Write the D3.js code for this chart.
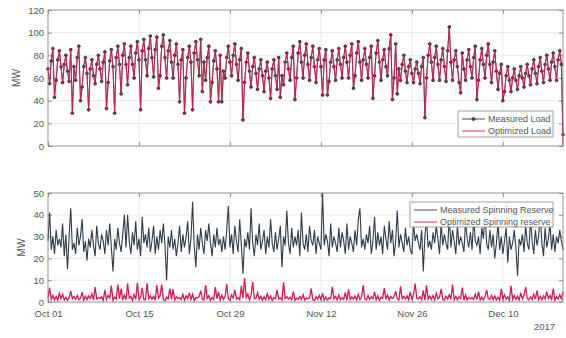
<!DOCTYPE html>
<html>
<head>
<meta charset="utf-8">
<script src="https://cdn.jsdelivr.net/npm/d3@7"></script>
<style>
  body { margin: 0; background: #fff; }
  svg { display: block; font-family: "Liberation Sans", Arial, Helvetica, sans-serif; }
  .axis text { fill: #555; font-size: 9.5px; }
  .axis path { display: none; }
  .axis line { stroke: #7a7a7a; stroke-width: 0.8; }
</style>
</head>
<body>
<div id="chart"></div>
<script>
// samples every 6 h from Oct 01 2017 (00, 06, 12, 18 h per row)
const startDate = Date.UTC(2017, 9, 1);
const stepHours = 6;

const measuredLoad = [
  [68, 55, 75, 86], [43, 58, 76, 84], [70, 56, 72, 80], [66, 57, 85, 29], [70, 58, 78, 88],
  [40, 52, 70, 78], [64, 32, 68, 76], [62, 55, 72, 80], [68, 57, 74, 83], [33, 56, 75, 85],
  [70, 29, 78, 88], [72, 46, 80, 90], [72, 54, 78, 88], [72, 60, 82, 92], [76, 32, 84, 94],
  [76, 62, 86, 97], [78, 61, 85, 96], [51, 62, 88, 98], [78, 60, 84, 93], [74, 60, 80, 90],
  [72, 39, 76, 85], [29, 60, 78, 88], [74, 32, 82, 92], [76, 62, 94, 48], [74, 58, 78, 88],
  [39, 56, 75, 84], [68, 39, 80, 39], [66, 60, 78, 88], [74, 62, 80, 90], [72, 58, 76, 86],
  [23, 56, 74, 82], [66, 52, 70, 78], [64, 50, 68, 76], [62, 48, 66, 74], [60, 42, 68, 76],
  [62, 50, 78, 43], [62, 54, 74, 82], [68, 58, 78, 88], [41, 60, 82, 92], [74, 60, 80, 90],
  [72, 58, 78, 88], [70, 56, 76, 86], [70, 45, 76, 85], [45, 57, 74, 84], [70, 58, 76, 86],
  [72, 60, 78, 88], [74, 60, 80, 90], [51, 62, 82, 92], [74, 58, 76, 86], [72, 60, 78, 88],
  [42, 62, 82, 93], [74, 58, 76, 85], [70, 62, 86, 98], [41, 60, 90, 46], [68, 58, 72, 80],
  [66, 56, 70, 76], [64, 56, 68, 74], [64, 55, 70, 78], [25, 60, 80, 90], [74, 58, 78, 88],
  [72, 58, 76, 86], [70, 57, 84, 105], [74, 58, 76, 84], [70, 56, 47, 82], [68, 58, 76, 85],
  [70, 60, 78, 88], [41, 58, 76, 86], [72, 60, 80, 90], [72, 56, 74, 84], [66, 50, 64, 72],
  [40, 48, 62, 70], [58, 48, 60, 68], [58, 50, 62, 70], [60, 52, 64, 72], [62, 54, 68, 76],
  [64, 55, 70, 78], [66, 56, 72, 80], [68, 58, 74, 82], [70, 58, 76, 84], [72, 10]
].flat();

const optimizedLoad = [
  [68, 55, 75, 86], [43, 58, 76, 84], [70, 56, 72, 80], [66, 57, 85, 29], [70, 58, 78, 88],
  [40, 52, 70, 78], [64, 32, 68, 76], [62, 55, 72, 80], [68, 57, 74, 83], [33, 56, 75, 85],
  [70, 29, 78, 88], [72, 46, 80, 90], [72, 54, 78, 88], [72, 60, 82, 92], [76, 32, 84, 94],
  [76, 62, 86, 96], [78, 61, 85, 96], [51, 62, 88, 98], [78, 60, 84, 93], [74, 60, 80, 90],
  [72, 39, 76, 85], [29, 60, 78, 88], [74, 32, 82, 92], [76, 62, 94, 48], [74, 58, 78, 88],
  [39, 56, 75, 84], [68, 39, 80, 39], [66, 60, 78, 88], [74, 62, 80, 90], [72, 58, 76, 86],
  [22, 56, 74, 82], [66, 52, 70, 78], [64, 50, 68, 76], [62, 48, 66, 74], [60, 42, 68, 76],
  [62, 50, 78, 43], [62, 54, 74, 82], [68, 58, 78, 88], [41, 60, 82, 92], [74, 60, 80, 90],
  [72, 57, 78, 88], [70, 56, 76, 86], [70, 45, 76, 85], [45, 57, 74, 84], [70, 58, 76, 86],
  [72, 60, 78, 88], [74, 60, 80, 90], [51, 62, 82, 92], [74, 58, 76, 86], [72, 60, 78, 88],
  [42, 62, 82, 93], [74, 58, 76, 85], [70, 62, 86, 98], [41, 60, 90, 46], [68, 58, 72, 80],
  [66, 56, 70, 76], [64, 56, 68, 74], [64, 55, 70, 78], [25, 60, 80, 90], [74, 58, 78, 88],
  [72, 58, 76, 86], [70, 57, 84, 105], [74, 58, 76, 84], [70, 56, 47, 82], [68, 58, 76, 85],
  [70, 60, 78, 88], [41, 58, 76, 86], [72, 60, 80, 90], [72, 56, 74, 84], [66, 50, 64, 72],
  [40, 48, 62, 70], [58, 48, 60, 68], [58, 50, 62, 70], [60, 52, 64, 72], [62, 54, 68, 76],
  [64, 55, 70, 78], [66, 56, 72, 80], [68, 58, 74, 82], [70, 58, 76, 84], [72, 0]
].flat();

const measuredReserve = [
  [28, 41, 24, 30], [22, 33, 26, 29], [25, 36, 21, 31], [15, 30, 43, 24], [27, 22, 34, 26],
  [30, 38, 23, 28], [19, 29, 25, 33], [26, 21, 35, 27], [24, 31, 28, 22], [33, 26, 36, 25],
  [14, 29, 24, 34], [27, 23, 31, 40], [25, 40, 28, 22], [32, 26, 37, 24], [29, 21, 39, 27],
  [31, 25, 34, 23], [28, 35, 22, 30], [24, 33, 27, 36], [26, 10, 30, 25], [33, 24, 29, 21],
  [27, 35, 23, 31], [25, 30, 37, 22], [29, 46, 26, 16], [31, 24, 34, 27], [22, 33, 28, 36],
  [27, 21, 31, 25], [34, 26, 29, 23], [30, 24, 33, 44], [25, 31, 22, 35], [28, 23, 38, 26],
  [13, 29, 25, 32], [24, 43, 27, 21], [31, 26, 36, 24], [28, 33, 22, 30], [25, 38, 27, 23],
  [32, 24, 29, 35], [16, 30, 26, 42], [27, 22, 34, 25], [30, 26, 33, 21], [41, 27, 24, 31],
  [23, 35, 28, 26], [33, 22, 30, 27], [24, 50, 26, 31], [28, 21, 36, 25], [30, 27, 23, 34],
  [25, 32, 28, 22], [36, 24, 30, 27], [23, 33, 26, 38], [43, 25, 29, 24], [31, 27, 35, 22],
  [28, 39, 24, 32], [26, 30, 22, 35], [29, 24, 37, 27], [33, 21, 28, 42], [25, 31, 27, 23],
  [34, 26, 30, 24], [22, 36, 28, 31], [27, 24, 33, 14], [30, 38, 25, 28], [24, 32, 27, 35],
  [29, 22, 36, 26], [31, 27, 24, 40], [25, 33, 28, 22], [35, 26, 30, 27], [23, 37, 29, 25],
  [32, 24, 38, 28], [26, 30, 22, 34], [29, 41, 27, 24], [33, 25, 31, 20], [27, 36, 24, 30],
  [22, 28, 34, 18], [30, 24, 27, 33], [25, 12, 29, 26], [31, 23, 35, 27], [24, 38, 28, 22],
  [33, 26, 30, 40], [27, 21, 34, 25], [29, 36, 24, 31], [23, 30, 27, 33], [28, 24]
].flat();

const optimizedReserve = [
  [2.0, 6.5, 1.2, 3.0], [1.0, 2.5, 0.8, 4.0], [1.5, 3.5, 1.0, 2.2], [0.8, 2.0, 5.0, 1.5], [2.5, 1.2, 3.0, 1.0],
  [1.8, 4.5, 0.9, 2.6], [1.1, 2.8, 1.6, 3.8], [0.9, 6.8, 1.4, 2.0], [1.6, 2.4, 0.7, 5.5], [1.2, 3.0, 1.8, 7.5],
  [0.8, 2.2, 1.3, 8.0], [1.5, 6.0, 0.9, 3.2], [1.0, 8.5, 1.7, 2.5], [0.7, 3.4, 1.2, 8.8], [1.4, 2.0, 6.5, 1.1],
  [0.9, 8.6, 1.5, 2.8], [1.3, 2.6, 0.8, 7.8], [1.8, 3.0, 8.0, 1.2], [0.6, 2.2, 1.4, 6.2], [1.2, 5.8, 0.9, 2.4],
  [1.6, 2.0, 1.1, 3.5], [0.8, 2.8, 1.5, 4.2], [1.1, 3.6, 0.7, 2.0], [1.9, 2.4, 5.2, 1.3], [1.0, 7.8, 1.6, 2.9],
  [0.7, 2.1, 1.2, 6.8], [1.5, 4.6, 0.9, 3.1], [1.2, 2.5, 8.2, 1.4], [0.9, 3.2, 1.8, 5.6], [1.4, 2.0, 1.1, 7.4],
  [1.7, 11.0, 2.0, 3.6], [1.0, 3.0, 9.2, 1.5], [1.6, 4.2, 1.3, 2.6], [0.8, 2.4, 1.0, 3.8], [1.2, 2.8, 0.7, 2.0],
  [1.5, 5.4, 1.4, 1.9], [0.9, 9.0, 1.6, 2.5], [1.3, 2.2, 1.0, 4.8], [0.8, 1.8, 1.2, 2.6], [1.1, 3.4, 0.9, 1.8],
  [1.5, 2.0, 6.2, 1.0], [0.7, 2.5, 1.3, 3.0], [1.2, 4.0, 0.8, 2.2], [0.9, 1.9, 1.5, 7.0], [1.4, 2.6, 0.9, 3.2],
  [1.0, 2.0, 1.2, 4.4], [0.8, 5.8, 1.1, 2.3], [1.3, 2.7, 0.9, 3.5], [1.1, 2.2, 7.6, 1.4], [0.9, 3.0, 1.2, 2.4],
  [1.5, 4.6, 1.0, 2.8], [0.8, 2.3, 1.6, 6.4], [1.2, 3.2, 0.9, 2.5], [1.6, 2.4, 5.0, 1.3], [0.9, 7.2, 1.5, 2.6],
  [1.3, 2.8, 1.0, 4.6], [1.0, 3.6, 8.4, 1.6], [1.4, 2.4, 1.1, 5.2], [0.8, 7.6, 1.3, 2.7], [1.2, 3.0, 0.9, 4.0],
  [1.5, 2.2, 6.0, 1.2], [0.9, 2.7, 1.4, 3.4], [1.3, 8.0, 1.0, 2.5], [1.0, 2.4, 1.6, 6.6], [0.8, 3.2, 0.9, 2.1],
  [1.4, 2.0, 1.2, 3.6], [1.1, 4.8, 1.0, 2.3], [0.9, 2.6, 5.6, 1.5], [1.3, 3.0, 1.1, 2.8], [1.0, 2.2, 0.8, 6.0],
  [1.5, 3.4, 1.3, 2.4], [0.8, 7.4, 1.2, 3.0], [1.2, 2.6, 0.9, 4.2], [1.4, 3.2, 6.8, 1.6], [0.9, 2.4, 1.1, 3.6],
  [1.3, 5.2, 1.0, 2.6], [1.0, 2.8, 1.4, 4.8], [1.6, 3.0, 0.9, 6.2], [0.8, 2.4, 1.3, 3.4], [1.4, 4.6]
].flat();

const xTickDates = ['2017-10-01', '2017-10-15', '2017-10-29', '2017-11-12', '2017-11-26', '2017-12-10'];
const loadTicks = [0, 20, 40, 60, 80, 100, 120];
const reserveTicks = [0, 10, 20, 30, 40, 50];

const width = 566;
const height = 338;
const left = 48;
const right = 563;
const red = '#dc1650';

const svg = d3.select('#chart').append('svg')
  .attr('width', width)
  .attr('height', height);

const times = measuredLoad.map((_, i) => new Date(startDate + i * stepHours * 3600e3));

const x = d3.scaleUtc()
  .domain(d3.extent(times))
  .range([left, right]);

const tickValues = xTickDates.map((s) => new Date(s + 'T00:00:00Z'));

function panel(top, bottom, yMax, yTicks, label, labelX) {
  const y = d3.scaleLinear().domain([0, yMax]).range([bottom, top]);
  const g = svg.append('g');

  // grid
  g.append('g').selectAll('line')
    .data(yTicks.slice(1, -1))
    .join('line')
    .attr('x1', left).attr('x2', right)
    .attr('y1', (v) => y(v)).attr('y2', (v) => y(v))
    .attr('stroke', '#e3e3e3').attr('stroke-width', 0.8);
  g.append('g').selectAll('line')
    .data(tickValues.slice(1))
    .join('line')
    .attr('x1', (t) => x(t)).attr('x2', (t) => x(t))
    .attr('y1', top).attr('y2', bottom)
    .attr('stroke', '#e3e3e3').attr('stroke-width', 0.8);

  g.append('g')
    .attr('class', 'axis')
    .attr('transform', `translate(${left},0)`)
    .call(d3.axisLeft(y).tickValues(yTicks).tickSize(-4).tickPadding(4));
  g.append('g')
    .attr('class', 'axis')
    .attr('transform', `translate(${right},0)`)
    .call(d3.axisRight(y).tickValues(yTicks).tickSize(-4).tickFormat(''));
  g.append('g')
    .attr('class', 'axis')
    .attr('transform', `translate(0,${top})`)
    .call(d3.axisTop(x).tickValues(tickValues).tickSize(-4).tickFormat(''));

  g.append('text')
    .attr('transform', `translate(${labelX},${(top + bottom) / 2}) rotate(-90)`)
    .attr('text-anchor', 'middle')
    .attr('fill', '#555')
    .attr('font-size', 10)
    .text(label);

  return { g, y };
}

// top: load
const p1 = panel(10, 146, 120, loadTicks, 'MW', 20);
p1.g.append('g')
  .attr('class', 'axis')
  .attr('transform', 'translate(0,146)')
  .call(d3.axisBottom(x).tickValues(tickValues).tickSize(-4).tickFormat(''));

const line1 = d3.line().x((d, i) => x(times[i])).y((d) => p1.y(d));
p1.g.append('path')
  .datum(measuredLoad)
  .attr('d', line1)
  .attr('fill', 'none')
  .attr('stroke', '#3a3a3a')
  .attr('stroke-width', 0.9);
p1.g.append('g').selectAll('circle')
  .data(measuredLoad)
  .join('circle')
  .attr('cx', (d, i) => x(times[i]))
  .attr('cy', (d) => p1.y(d))
  .attr('r', 1.4)
  .attr('fill', '#6a3a4a')
  .attr('stroke', '#2a2a2a')
  .attr('stroke-width', 0.8);
p1.g.append('path')
  .datum(optimizedLoad)
  .attr('d', line1)
  .attr('fill', 'none')
  .attr('stroke', red)
  .attr('stroke-opacity', 0.8)
  .attr('stroke-width', 1.1);

p1.g.append('rect')
  .attr('x', left).attr('y', 10)
  .attr('width', right - left).attr('height', 136)
  .attr('fill', 'none').attr('stroke', '#7a7a7a').attr('stroke-width', 0.8);

// bottom: spinning reserve
const p2 = panel(193, 302, 50, reserveTicks, 'MW', 25);
p2.g.append('g')
  .attr('class', 'axis')
  .attr('transform', 'translate(0,302)')
  .call(d3.axisBottom(x).tickValues(tickValues).tickSize(-4).tickPadding(8).tickFormat(d3.utcFormat('%b %d')));

const line2 = d3.line().x((d, i) => x(times[i])).y((d) => p2.y(d));
p2.g.append('path')
  .datum(measuredReserve)
  .attr('d', line2)
  .attr('fill', 'none')
  .attr('stroke', '#303b46')
  .attr('stroke-width', 1.1);
p2.g.append('path')
  .datum(optimizedReserve)
  .attr('d', line2)
  .attr('fill', 'none')
  .attr('stroke', red)
  .attr('stroke-width', 1.3);

p2.g.append('rect')
  .attr('x', left).attr('y', 193)
  .attr('width', right - left).attr('height', 109)
  .attr('fill', 'none').attr('stroke', '#7a7a7a').attr('stroke-width', 0.8);

svg.append('text')
  .attr('x', 555).attr('y', 330)
  .attr('text-anchor', 'end')
  .attr('fill', '#555')
  .attr('font-size', 9.5)
  .text('2017');

// legends
function legend(x0, y0, w, h, items) {
  const lg = svg.append('g');
  lg.append('rect')
    .attr('x', x0).attr('y', y0).attr('width', w).attr('height', h)
    .attr('fill', '#fff').attr('stroke', '#8a8a8a').attr('stroke-width', 0.8);
  items.forEach((it, i) => {
    const yy = y0 + 8 + i * 12;
    lg.append('line')
      .attr('x1', x0 + 4).attr('x2', x0 + 27)
      .attr('y1', yy).attr('y2', yy)
      .attr('stroke', it.color).attr('stroke-width', 0.9);
    if (it.marker) {
      lg.append('circle')
        .attr('cx', x0 + 15.5).attr('cy', yy).attr('r', 1.5)
        .attr('fill', '#6a3a4a').attr('stroke', '#2a2a2a').attr('stroke-width', 0.8);
    }
    lg.append('text')
      .attr('x', x0 + 30).attr('y', yy + 3.2)
      .attr('fill', '#555')
      .attr('font-size', 9)
      .text(it.label);
  });
}

legend(458, 111, 95, 26, [
  { label: 'Measured Load', color: '#3a3a3a', marker: true },
  { label: 'Optimized Load', color: red },
]);
legend(410, 202, 143, 25, [
  { label: 'Measured Spinning Reserve', color: '#303b46' },
  { label: 'Optimized Spinning reserve', color: red },
]);
</script>
</body>
</html>
